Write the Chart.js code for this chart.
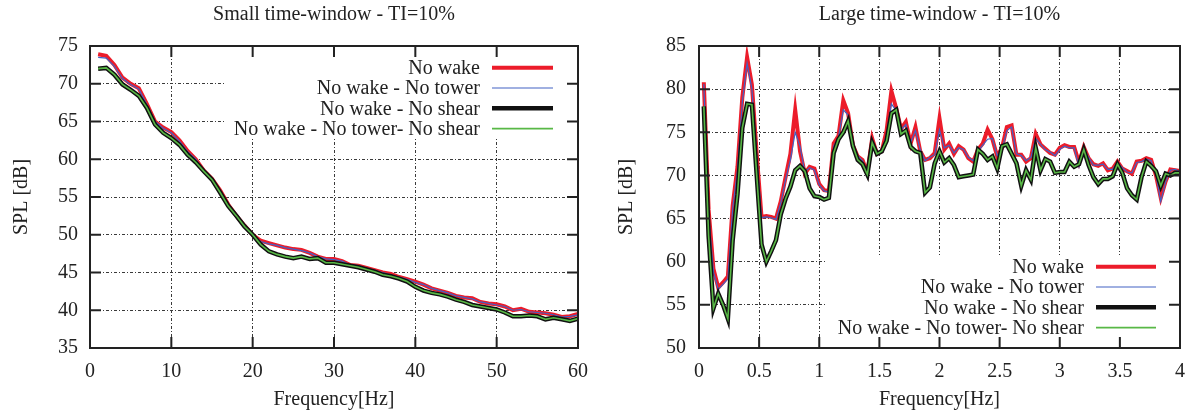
<!DOCTYPE html>
<html>
<head>
<meta charset="utf-8">
<script src="https://cdn.jsdelivr.net/npm/chart.js@4"></script>
<style>
  body { margin: 0; background: #fff; }
  #wrap { position: relative; width: 1197px; height: 412px; }
  canvas { position: absolute; top: 0; }
</style>
</head>
<body>
<div id="wrap">
  <canvas id="small" width="600" height="412" style="left:0"></canvas>
  <canvas id="large" width="597" height="412" style="left:600px"></canvas>
</div>
<script>
const seriesNames = ["No wake", "No wake - No tower", "No wake - No shear", "No wake - No tower- No shear"];

// small time-window, 1 Hz steps
const freqSmall = Array.from({ length: 60 }, (_, i) => i + 1);
const noWakeS = [73.9, 73.7, 72.5, 70.8, 70.0, 69.4, 67.3, 65.0, 64.2, 63.6,
  62.5, 61.1, 60.0, 58.5, 57.4, 55.9, 54.0, 52.5, 51.2, 50.0,
  49.2, 48.9, 48.6, 48.3, 48.1, 48.0, 47.6, 47.1, 46.8, 46.8,
  46.5, 46.0, 45.9, 45.6, 45.3, 45.0, 44.8, 44.4, 44.1, 43.8,
  43.4, 42.9, 42.6, 42.3, 41.9, 41.7, 41.6, 41.1, 40.9, 40.8,
  40.5, 40.0, 40.2, 39.8, 39.7, 39.6, 39.4, 39.1, 39.2, 39.5];
const noTowerS = [73.5, 73.4, 72.3, 70.7, 69.9, 69.3, 67.2, 65.0, 64.1, 63.5,
  62.4, 61.0, 60.0, 58.5, 57.4, 55.8, 54.0, 52.4, 51.2, 50.0,
  49.1, 48.8, 48.6, 48.3, 48.1, 47.9, 47.6, 47.1, 46.8, 46.7,
  46.5, 46.0, 45.9, 45.6, 45.3, 45.0, 44.7, 44.4, 44.1, 43.7,
  43.4, 42.9, 42.6, 42.3, 41.9, 41.7, 41.5, 41.1, 40.9, 40.7,
  40.5, 40.0, 40.1, 39.8, 39.7, 39.6, 39.4, 39.1, 39.2, 39.4];
const noShearS = [72.0, 72.1, 71.2, 69.9, 69.2, 68.4, 66.8, 64.6, 63.5, 62.8,
  61.9, 60.6, 59.6, 58.4, 57.3, 55.6, 53.8, 52.5, 51.1, 50.0,
  48.7, 47.8, 47.4, 47.1, 46.9, 47.1, 46.8, 46.9, 46.3, 46.3,
  46.1, 45.9, 45.7, 45.4, 45.1, 44.7, 44.5, 44.2, 43.8, 43.1,
  42.6, 42.3, 42.1, 41.8, 41.4, 41.1, 40.7, 40.5, 40.3, 40.1,
  39.7, 39.2, 39.2, 39.3, 39.2, 38.8, 39.0, 38.8, 38.6, 38.9];
const noTowerNoShearS = noShearS;

// large time-window, 0.04 Hz steps
const freqLarge = Array.from({ length: 100 }, (_, i) => +((i + 1) * 0.04).toFixed(2));
const noWakeL = [80.8, 66, 59.2, 57.0, 57.6, 58.3, 66.5, 71, 79, 83.7,
  80.5, 72.5, 65.2, 65.3, 65.2, 65.0, 67, 69.8, 72.5, 77.6,
  72.8, 70.2, 71, 70.8, 69, 68.3, 68.2, 73.7, 74.6, 78.7,
  77.2, 73.5, 72.2, 71.8, 70.3, 74.3, 72.5, 72.8, 75.2, 79.8,
  77.8, 75.4, 76.2, 73.7, 75.6, 72.8, 71.8, 72, 72.6, 76.6,
  73, 73.7, 72.5, 73.4, 73, 72, 71.6, 73, 73.7, 75.3,
  74.2, 72.2, 73.2, 75.6, 75.8, 72.4, 72.4, 71.6, 72, 74.8,
  73.6, 73.1, 72.6, 72.4, 73.2, 73.5, 73.3, 73.3, 71.5, 73.3,
  72, 71.3, 71.1, 71.4, 70.6, 70.8, 71.6, 70.8, 70.5, 70.2,
  71.6, 71.7, 72, 71.8, 70, 67.4, 69.3, 70.7, 70.6, 70.5];
const noTowerL = [80.6, 65.5, 58.8, 56.8, 57.4, 58.0, 66.2, 70.6, 78.5, 83,
  80, 72.3, 65.1, 65.2, 65.1, 64.9, 66.8, 69.5, 71.8, 75,
  73.4, 70.4, 70.9, 70.6, 68.9, 68.2, 68.1, 73.4, 74.4, 77.6,
  77.0, 73.6, 72.3, 71.7, 70.4, 74.0, 72.6, 72.7, 74.8, 78.3,
  77.5, 75.3, 75.9, 73.8, 75.2, 73.0, 71.7, 72.1, 72.4, 75.3,
  73.2, 73.5, 72.6, 73.2, 73.0, 72.1, 71.7, 72.8, 73.5, 74.2,
  74.3, 72.3, 73.0, 75.2, 75.6, 72.5, 72.3, 71.7, 72.1, 74.3,
  73.6, 73.0, 72.7, 72.3, 73.0, 73.4, 73.2, 73.2, 71.0, 73.1,
  72.1, 71.2, 71.2, 71.3, 70.7, 70.7, 71.5, 70.9, 70.4, 70.3,
  71.5, 71.6, 71.9, 71.7, 70.1, 67.0, 69.2, 70.6, 70.7, 70.4];
const noShearL = [78, 63, 54.6, 56.3, 55.0, 53.4, 62.5, 67.8, 75.5, 78.3,
  78.2, 70, 62, 60, 61.2, 62.5, 65.5, 67.3, 68.7, 70.6,
  71.1, 70.5, 68.5, 67.6, 67.5, 67.2, 67.4, 72.6, 74.2, 75,
  76.3, 73.4, 71.8, 71.3, 70.1, 73.8, 72.5, 72.8, 74, 77.2,
  77.6, 74.8, 75.2, 73.3, 72.8, 72.6, 68, 68.6, 71.4, 72.8,
  71.5, 72, 71.2, 69.8, 69.9, 70, 70.1, 73, 72.5, 71.8,
  72.2, 70.8, 73.4, 73.6, 72.5, 71.4, 68.8, 70.6, 69.5, 73.2,
  70.6, 71.9, 71.6, 70.3, 70.4, 70.4, 71.6, 71, 71.3, 73,
  71.2, 69.8, 69, 69.6, 69.6, 69.9, 71.3, 70.3, 68.5, 67.7,
  67.2, 69.8, 71.6, 71.1, 70.5, 68.8, 70.2, 70, 70.3, 70.3];
const noTowerNoShearL = noShearL;

const ticksSmallX = { min: 0, max: 60, step: 10 };
const ticksSmallY = { min: 35, max: 75, step: 5 };
const ticksLargeX = { min: 0, max: 4, step: 0.5 };
const ticksLargeY = { min: 50, max: 85, step: 5 };

const serif = '"Liberation Serif", "DejaVu Serif", serif';
const fontSize = 20;
Chart.defaults.font.family = serif;
Chart.defaults.font.size = fontSize;
Chart.defaults.color = '#222';

const styles = [
  { color: '#ec1c2a', width: 4, order: 4 },
  { color: '#4262c4', width: 1.2, order: 3 },
  { color: '#111111', width: 4.5, order: 2 },
  { color: '#58b846', width: 1.6, order: 1 }
];

const framePlugin = {
  id: 'frame',
  afterDraw(chart, args, opts) {
    const { ctx, chartArea: a, scales } = chart;
    ctx.save();
    ctx.fillStyle = '#222';
    ctx.font = fontSize + 'px ' + serif;
    ctx.textAlign = 'center';
    ctx.textBaseline = 'middle';
    ctx.fillText(opts.title, (a.left + a.right) / 2, 15);

    // key
    const k = opts.key;
    const bx = a.right - k.width;
    const by = k.atTop ? a.top : a.bottom - k.height;
    ctx.fillStyle = '#fff';
    ctx.fillRect(bx, by, k.width, k.height);
    ctx.textAlign = 'right';
    chart.data.datasets.forEach((ds, i) => {
      const y = by + k.firstRow + i * k.rowGap;
      ctx.fillStyle = '#222';
      ctx.fillText(ds.label, a.right - k.sampleRight - k.sampleLen - 12, y + 1);
      ctx.strokeStyle = ds.borderColor;
      ctx.lineWidth = ds.borderWidth;
      ctx.beginPath();
      ctx.moveTo(a.right - k.sampleRight - k.sampleLen, y);
      ctx.lineTo(a.right - k.sampleRight, y);
      ctx.stroke();
    });

    // frame and inward ticks on all sides
    ctx.strokeStyle = '#222';
    ctx.lineWidth = 2;
    ctx.setLineDash([]);
    const len = 11;
    ctx.beginPath();
    scales.x.ticks.forEach(t => {
      const px = scales.x.getPixelForValue(t.value);
      ctx.moveTo(px, a.bottom); ctx.lineTo(px, a.bottom - len);
      ctx.moveTo(px, a.top); ctx.lineTo(px, a.top + len);
    });
    scales.y.ticks.forEach(t => {
      const py = scales.y.getPixelForValue(t.value);
      ctx.moveTo(a.left, py); ctx.lineTo(a.left + len, py);
      ctx.moveTo(a.right, py); ctx.lineTo(a.right - len, py);
    });
    ctx.stroke();
    ctx.strokeRect(a.left, a.top, a.right - a.left, a.bottom - a.top);
    ctx.restore();
  }
};

function makeChart(id, freqs, series, tx, ty, cfg) {
  const datasets = series.map((vals, i) => ({
    label: seriesNames[i],
    data: freqs.map((f, j) => ({ x: f, y: vals[j] })),
    borderColor: styles[i].color,
    borderWidth: styles[i].width,
    order: styles[i].order,
    pointRadius: 0,
    tension: 0,
    fill: false
  }));
  const gridStyle = { color: '#3a3a3a', lineWidth: 1, drawTicks: false };
  return new Chart(document.getElementById(id), {
    type: 'line',
    data: { datasets },
    plugins: [framePlugin],
    options: {
      responsive: false,
      animation: false,
      layout: { padding: { top: 46, right: cfg.padRight, left: 0, bottom: 0 } },
      plugins: {
        legend: { display: false },
        tooltip: { enabled: false },
        frame: { title: cfg.title, key: cfg.key }
      },
      scales: {
        x: {
          type: 'linear', min: tx.min, max: tx.max,
          ticks: { stepSize: tx.step, padding: 12, maxRotation: 0, autoSkip: false,
                   callback: v => String(Math.round(v * 10) / 10) },
          grid: gridStyle,
          border: { display: false, dash: [3, 2, 1, 2] },
          title: { display: true, text: 'Frequency[Hz]', padding: 0 },
          afterFit(s) { s.height = 64; }
        },
        y: {
          min: ty.min, max: ty.max,
          ticks: { stepSize: ty.step, padding: cfg.yPad },
          grid: gridStyle,
          border: { display: false, dash: [3, 2, 1, 2] },
          title: { display: true, text: 'SPL [dB]', padding: { top: cfg.yTitlePad, bottom: 0 } },
          afterFit(s) { s.width = cfg.yWidth; }
        }
      }
    }
  });
}

makeChart('small', freqSmall, [noWakeS, noTowerS, noShearS, noTowerNoShearS], ticksSmallX, ticksSmallY, {
  title: 'Small time-window - TI=10%',
  padRight: 21, yWidth: 90, yPad: 12, yTitlePad: 10,
  key: { atTop: true, width: 354, height: 92, firstRow: 21.7, rowGap: 20.3, sampleRight: 25, sampleLen: 61 }
});
makeChart('large', freqLarge, [noWakeL, noTowerL, noShearL, noTowerNoShearL], ticksLargeX, ticksLargeY, {
  title: 'Large time-window - TI=10%',
  padRight: 11, yWidth: 99, yPad: 13, yTitlePad: 15,
  key: { atTop: false, width: 353, height: 93, firstRow: 11.7, rowGap: 20.3, sampleRight: 24, sampleLen: 60 }
});
</script>
</body>
</html>
